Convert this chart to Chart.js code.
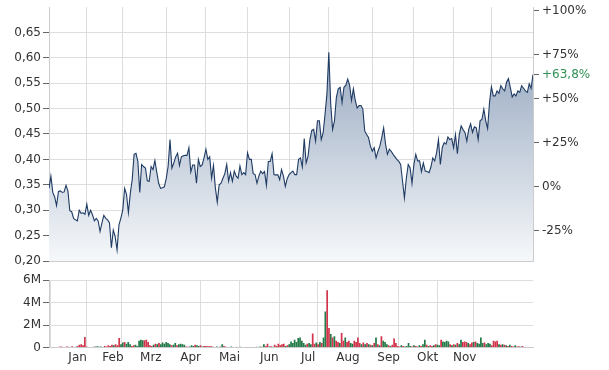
<!DOCTYPE html>
<html lang="de">
<head>
<meta charset="UTF-8">
<title>Kursverlauf</title>
<script src="https://cdn.jsdelivr.net/npm/chart.js"></script>
<style>
  body { margin: 0; background: #fff; }
  .wrap { position: absolute; left: 0; width: 609px; }
  #priceBox { top: 0; height: 268px; }
  #volBox { top: 266px; height: 104px; }
</style>
</head>
<body>
<div class="wrap" id="priceBox"><canvas id="priceChart"></canvas></div>
<div class="wrap" id="volBox"><canvas id="volChart"></canvas></div>
<script>
// month names (Dez is not labelled in the original)
const monthNames = ['Jan', 'Feb', 'Mrz', 'Apr', 'Mai', 'Jun', 'Jul', 'Aug', 'Sep', 'Okt', 'Nov'];

// daily closing prices, one array per month
const priceJan = [0.343,0.367,0.335,0.326,0.309,0.337,0.338,0.335,0.336,0.349,0.338,0.299,0.297,0.284,0.281,0.279,0.300,0.294,0.295,0.292];
const priceFeb = [0.312,0.290,0.300,0.291,0.279,0.284,0.279,0.258,0.275,0.290,0.284,0.281,0.275,0.226,0.261,0.248,0.222,0.271,0.284];
const priceMar = [0.300,0.343,0.331,0.295,0.333,0.360,0.410,0.412,0.396,0.335,0.390,0.386,0.383,0.358,0.357,0.386,0.380,0.398,0.375,0.353,0.343,0.344,0.346];
const priceApr = [0.362,0.386,0.439,0.383,0.393,0.405,0.412,0.388,0.405,0.407,0.408,0.408,0.423,0.375,0.389,0.389,0.353,0.400,0.386,0.389,0.403];
const priceMai = [0.420,0.400,0.405,0.363,0.388,0.344,0.316,0.350,0.353,0.363,0.372,0.390,0.357,0.374,0.357,0.377,0.367,0.363,0.387,0.370,0.374,0.370];
const priceJun = [0.413,0.400,0.400,0.372,0.370,0.353,0.367,0.377,0.372,0.376,0.349,0.396,0.396,0.411,0.370,0.369,0.370,0.360,0.380,0.367,0.347,0.362];
const priceJul = [0.370,0.374,0.377,0.370,0.370,0.400,0.403,0.385,0.441,0.393,0.406,0.439,0.457,0.459,0.436,0.476,0.476,0.439,0.452,0.489,0.529];
const priceAug = [0.611,0.509,0.459,0.476,0.522,0.539,0.542,0.512,0.542,0.546,0.558,0.546,0.516,0.539,0.516,0.501,0.506,0.506,0.499,0.456,0.449,0.443,0.426];
const priceSep = [0.416,0.423,0.403,0.416,0.426,0.443,0.462,0.430,0.410,0.420,0.416,0.410,0.405,0.400,0.396,0.390,0.357,0.324,0.363,0.390,0.383,0.353];
const priceOkt = [0.390,0.410,0.397,0.397,0.376,0.393,0.377,0.376,0.374,0.385,0.403,0.397,0.413,0.439,0.390,0.423,0.433,0.430,0.444,0.439,0.441];
const priceNov = [0.423,0.449,0.411,0.449,0.466,0.459,0.453,0.436,0.459,0.470,0.453,0.464,0.462,0.439,0.476,0.479,0.499,0.476,0.461,0.512];
const priceDez = [0.543,0.525,0.525,0.535,0.530,0.545,0.539,0.535,0.552,0.559,0.542,0.523,0.529,0.525,0.535,0.532,0.545,0.540,0.535,0.532,0.549,0.540,0.567];

// daily volume in millions, same layout
const volJan = [0.08,0.1,0.06,0.05,0.1,0.08,0.06,0.12,0.05,0.08,0.15,0.25,0.3,0.2,0.95,0.1,0.05,0.06,0.05,0.08];
const volFeb = [0.1,0.12,0.08,0.1,0.05,0.15,0.1,0.2,0.15,0.25,0.2,0.3,0.2,0.85,0.3,0.45,0.5,0.35,0.5];
const volMar = [0.3,0.15,0.2,0.25,0.15,0.6,0.7,0.65,0.65,0.7,0.5,0.2,0.15,0.25,0.35,0.3,0.4,0.3,0.45,0.35,0.5,0.4,0.3];
const volApr = [0.2,0.25,0.4,0.2,0.3,0.35,0.3,0.25,0.1,0.08,0.1,0.2,0.15,0.25,0.2,0.15,0.2,0.1,0.15,0.15,0.12];
const volMai = [0.15,0.12,0.08,0.05,0.1,0.06,0.1,0.3,0.15,0.08,0.06,0.05,0.1,0.05,0.06,0.04,0.05,0.08,0.05,0.06,0.05,0.04];
const volJun = [0.05,0.06,0.04,0.05,0.08,0.05,0.1,0.08,0.3,0.15,0.35,0.1,0.12,0.08,0.25,0.15,0.35,0.2,0.3,0.35,0.15,0.2];
const volJul = [0.3,0.55,0.4,0.7,0.5,0.85,0.9,0.6,0.4,0.25,0.35,0.4,0.3,1.25,0.35,0.45,0.3,0.5,0.4,0.9,3.2];
const volAug = [5.1,1.75,1.2,0.9,1.0,0.6,0.5,0.4,1.3,0.6,0.9,0.5,0.6,0.4,0.35,0.6,0.5,0.9,0.4,0.3,0.45,0.3,0.4];
const volSep = [0.3,0.25,0.2,0.4,0.9,0.3,0.2,1.0,0.6,0.5,0.3,0.2,0.15,0.25,0.8,0.4,0.15,0.1,0.2,0.15,0.1,0.15];
const volOkt = [0.4,0.15,0.1,0.2,0.15,0.1,0.2,0.15,0.3,0.7,0.25,0.15,0.2,0.15,0.2,0.3,0.25,0.2,0.7,0.55,0.5];
const volNov = [0.6,0.55,0.3,0.2,0.3,0.25,0.4,0.3,0.7,0.5,0.55,0.5,0.4,0.3,0.45,0.5,0.55,0.4,0.35,0.9];
const volDez = [0.4,0.45,0.3,0.4,0.35,0.2,0.6,0.55,0.6,0.3,0.25,0.3,0.25,0.2,0.15,0.25,0.15,0.1,0.2,0.1,0.12,0.08,0.15];

// g = up day, r = down day (per month)
const volDir = [
  'rrrgrrrrrgrrrrrrggrr', 'gggggrrrrrgrrrggrgg', 'grrgggggrrrrrgrgrgggggg', 'rggrggggrrgggrggrgrrr',
  'rrgrgrggrrgrgrgrrgrrgr', 'grrggrgrgrrgrgrrrrrrgr', 'ggggggggggrggrrgrgrgg', 'rrgrgrrgrrgrrggrrrrgrgr',
  'grgrgrgrgggrgrrrrrgrgg', 'ggrgrrgrggrgrrgrggrgg', 'ggrgrgrggrrrgrrgrggg', 'grgggrrrrgrgrgrgrrgrrgr'
];

const basePrice = 0.3462;           // 0 % reference
const priceMin = 0.20, priceMax = 0.70;
const priceTicks = [0.20, 0.25, 0.30, 0.35, 0.40, 0.45, 0.50, 0.55, 0.60, 0.65];
const pctTicks = [-25, 0, 25, 50, 75, 100];
const volMax = 6;
const volTicks = [0, 2, 4, 6];

const priceMonths = [priceJan, priceFeb, priceMar, priceApr, priceMai, priceJun, priceJul, priceAug, priceSep, priceOkt, priceNov, priceDez];
const volMonths = [volJan, volFeb, volMar, volApr, volMai, volJun, volJul, volAug, volSep, volOkt, volNov, volDez];

const prices = priceMonths.flat();
const volumes = volMonths.flat();
const dirs = volDir.join('').split('');
const lastIdx = prices.length - 1;

const monthStarts = [];
let n = 0;
priceMonths.forEach(m => { monthStarts.push(n); n += m.length; });
const monthMids = monthNames.map((_, i) => (monthStarts[i] + (monthStarts[i + 1] ?? prices.length)) / 2);

const toPct = p => (p / basePrice - 1) * 100;
const lastPct = Math.round(toPct(prices[lastIdx]) * 10) / 10;

const GRID = '#dedede';
const BORDER = '#cccccc';
const TICK = '#666666';
const UP = '#237a48';
const DOWN = '#d1344b';

Chart.defaults.font.family = '"DejaVu Sans", Verdana, sans-serif';
Chart.defaults.font.size = 12;
Chart.defaults.color = '#333333';

function noPad(s) { s.paddingTop = 0; s.paddingBottom = 0; }

new Chart(document.getElementById('priceChart'), {
  type: 'line',
  data: {
    datasets: [{
      data: prices.map((v, i) => ({ x: i, y: v })),
      borderColor: '#1f3b63',
      borderWidth: 1.1,
      pointRadius: 0,
      tension: 0,
      fill: 'start',
      backgroundColor: (ctx) => {
        const a = ctx.chart.chartArea;
        if (!a) return 'rgba(0,0,0,0)';
        const g = ctx.chart.ctx.createLinearGradient(0, a.top, 0, a.bottom);
        g.addColorStop(0, '#8599b5');
        g.addColorStop(1, '#f6f8fa');
        return g;
      }
    }]
  },
  options: {
    animation: false,
    responsive: true,
    maintainAspectRatio: false,
    layout: { padding: { top: 7, left: 0, right: 0, bottom: 7 } },
    plugins: { legend: { display: false }, tooltip: { enabled: false } },
    scales: {
      x: {
        type: 'linear', min: 0, max: lastIdx,
        afterBuildTicks: s => { s.ticks = monthStarts.map(v => ({ value: v })); },
        ticks: { display: false },
        grid: { color: GRID, drawTicks: false },
        border: { color: BORDER }
      },
      y: {
        position: 'left', min: priceMin, max: priceMax,
        afterBuildTicks: s => { s.ticks = priceTicks.map(v => ({ value: v })); },
        ticks: { padding: 2, callback: v => v.toFixed(2).replace('.', ',') },
        grid: { color: GRID, tickColor: TICK, tickLength: 6 },
        border: { color: BORDER },
        afterFit: s => { s.width = 49; noPad(s); }
      },
      yPct: {
        position: 'right', min: toPct(priceMin), max: toPct(priceMax),
        afterBuildTicks: s => { s.ticks = pctTicks.concat([lastPct]).map(v => ({ value: v })); },
        ticks: {
          padding: 3,
          color: ctx => ctx.tick && ctx.tick.value === lastPct ? '#2f9055' : '#333333',
          callback: v => (v > 0 ? '+' : '') + String(v).replace('.', ',') + '%'
        },
        grid: { drawOnChartArea: false, tickColor: TICK, tickLength: 6 },
        border: { color: BORDER },
        afterFit: s => { s.width = 76; noPad(s); }
      }
    }
  }
});

new Chart(document.getElementById('volChart'), {
  type: 'bar',
  data: {
    datasets: [{
      data: volumes.map((v, i) => ({ x: i, y: v })),
      backgroundColor: dirs.map(d => d === 'g' ? UP : DOWN),
      barPercentage: 0.95,
      categoryPercentage: 1
    }]
  },
  options: {
    animation: false,
    responsive: true,
    maintainAspectRatio: false,
    layout: { padding: { top: 14, left: 0, right: 76, bottom: 2 } },
    plugins: { legend: { display: false }, tooltip: { enabled: false } },
    scales: {
      x: {
        type: 'linear', min: 0, max: lastIdx,
        afterBuildTicks: s => {
          s.ticks = monthStarts.concat(monthMids).sort((a, b) => a - b).map(v => ({ value: v }));
        },
        afterFit: s => { s.paddingLeft = 0; s.paddingRight = 0; },
        ticks: {
          autoSkip: false, maxRotation: 0, padding: 3,
          callback: v => { const i = monthMids.indexOf(v); return i >= 0 ? monthNames[i] : ''; }
        },
        grid: {
          drawTicks: false,
          color: ctx => ctx.tick && monthStarts.includes(ctx.tick.value) ? GRID : 'rgba(0,0,0,0)'
        },
        border: { color: BORDER }
      },
      y: {
        min: 0, max: volMax,
        afterBuildTicks: s => { s.ticks = volTicks.map(v => ({ value: v })); },
        ticks: { padding: 2, callback: v => v === 0 ? '0' : v + 'M' },
        grid: { color: GRID, tickColor: TICK, tickLength: 6 },
        border: { color: BORDER },
        afterFit: s => { s.width = 49; noPad(s); }
      }
    }
  }
});
</script>
</body>
</html>
